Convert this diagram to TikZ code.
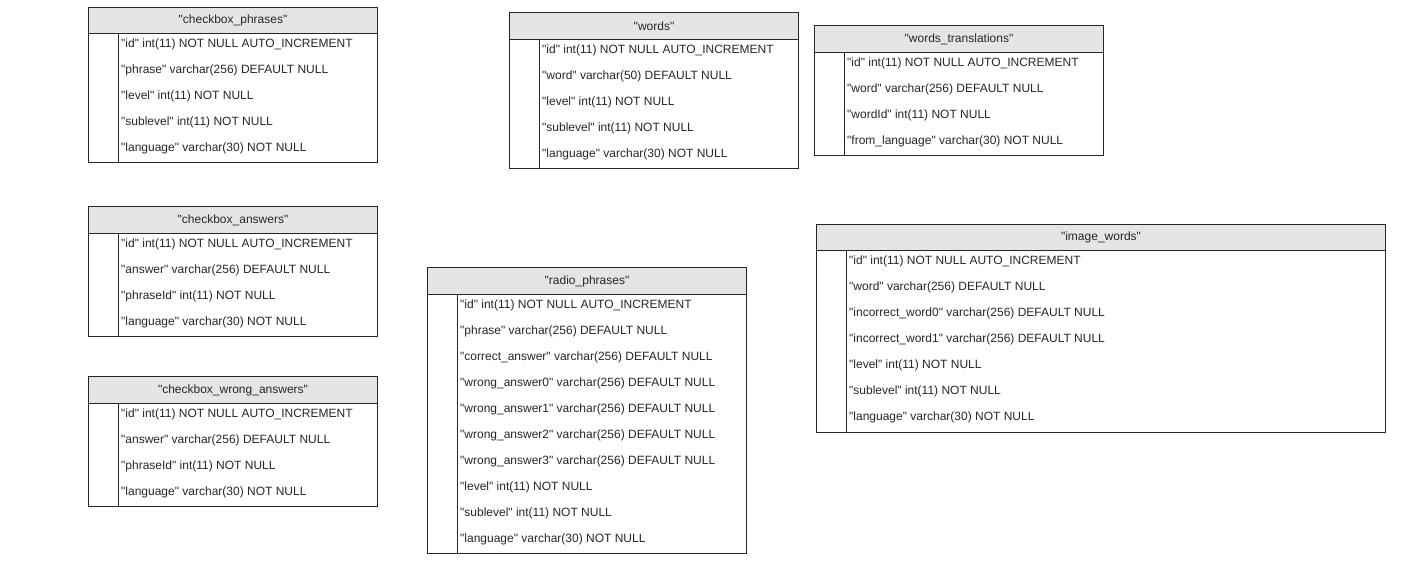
\documentclass[tikz,border=0pt]{standalone}
\usepackage{fontspec}
\setmainfont{Liberation Sans}[Ligatures=TeXOff]
\begin{document}
\begin{tikzpicture}[x=1pt,y=-1pt,
  tframe/.style={draw=black!85, line width=1pt, inner sep=0pt, anchor=north west},
  hdr/.style={tframe, fill=black!10, text=black!85},
  body/.style={tframe},
  keyline/.style={draw=black!85, line width=1pt},
  rowtext/.style={anchor=west, inner sep=0pt, text=black!85},
  every node/.append style={font=\fontsize{12}{14}\selectfont}]
\useasboundingbox (0,0) rectangle (1414,584);
\newcommand\dbtable[7]{%
  \pgfmathsetmacro\tW{#4-#2}\pgfmathsetmacro\tHh{#5-#3}\pgfmathsetmacro\tHb{#6-#5}%
  \node[hdr, minimum width=\tW pt, minimum height=\tHh pt] (#1) at (#2,#3) {#7};
  \node[body, minimum width=\tW pt, minimum height=\tHb pt] (#1-body) at (#2,#5) {};
  \draw[keyline] ([xshift=30pt]#1-body.north west) -- ([xshift=30pt]#1-body.south west);
}
\newcommand\dbrows[4]{%
  \foreach \t [count=\i] in {#4} {
    \node[rowtext] (#1-r\i) at (#2+33, #3+11+26*\i-26) {\t};
  }
}
% checkbox_phrases
\dbtable{cp}{88}{7}{377}{33}{162}{"checkbox\_phrases"}
\dbrows{cp}{88}{33}{{"id" int(11) NOT NULL AUTO\_INCREMENT},{"phrase" varchar(256) DEFAULT NULL},{"level" int(11) NOT NULL},{"sublevel" int(11) NOT NULL},{"language" varchar(30) NOT NULL}}
% checkbox_answers
\dbtable{ca}{88}{206}{377}{233}{336}{"checkbox\_answers"}
\dbrows{ca}{88}{233}{{"id" int(11) NOT NULL AUTO\_INCREMENT},{"answer" varchar(256) DEFAULT NULL},{"phraseId" int(11) NOT NULL},{"language" varchar(30) NOT NULL}}
% checkbox_wrong_answers
\dbtable{cw}{88}{376}{377}{403}{506}{"checkbox\_wrong\_answers"}
\dbrows{cw}{88}{403}{{"id" int(11) NOT NULL AUTO\_INCREMENT},{"answer" varchar(256) DEFAULT NULL},{"phraseId" int(11) NOT NULL},{"language" varchar(30) NOT NULL}}
% words
\dbtable{w}{509}{12}{798}{39}{168}{"words"}
\dbrows{w}{509}{39}{{"id" int(11) NOT NULL AUTO\_INCREMENT},{"word" varchar(50) DEFAULT NULL},{"level" int(11) NOT NULL},{"sublevel" int(11) NOT NULL},{"language" varchar(30) NOT NULL}}
% words_translations
\dbtable{wt}{814}{25}{1103}{52}{155}{"words\_translations"}
\dbrows{wt}{814}{52}{{"id" int(11) NOT NULL AUTO\_INCREMENT},{"word" varchar(256) DEFAULT NULL},{"wordId" int(11) NOT NULL},{"from\_language" varchar(30) NOT NULL}}
% radio_phrases
\dbtable{rp}{427}{267}{746}{294}{553}{"radio\_phrases"}
\dbrows{rp}{427}{294}{{"id" int(11) NOT NULL AUTO\_INCREMENT},{"phrase" varchar(256) DEFAULT NULL},{"correct\_answer" varchar(256) DEFAULT NULL},{"wrong\_answer0" varchar(256) DEFAULT NULL},{"wrong\_answer1" varchar(256) DEFAULT NULL},{"wrong\_answer2" varchar(256) DEFAULT NULL},{"wrong\_answer3" varchar(256) DEFAULT NULL},{"level" int(11) NOT NULL},{"sublevel" int(11) NOT NULL},{"language" varchar(30) NOT NULL}}
% image_words
\dbtable{iw}{816}{224}{1385}{250}{432}{"image\_words"}
\dbrows{iw}{816}{250}{{"id" int(11) NOT NULL AUTO\_INCREMENT},{"word" varchar(256) DEFAULT NULL},{"incorrect\_word0" varchar(256) DEFAULT NULL},{"incorrect\_word1" varchar(256) DEFAULT NULL},{"level" int(11) NOT NULL},{"sublevel" int(11) NOT NULL},{"language" varchar(30) NOT NULL}}
\end{tikzpicture}
\end{document}
